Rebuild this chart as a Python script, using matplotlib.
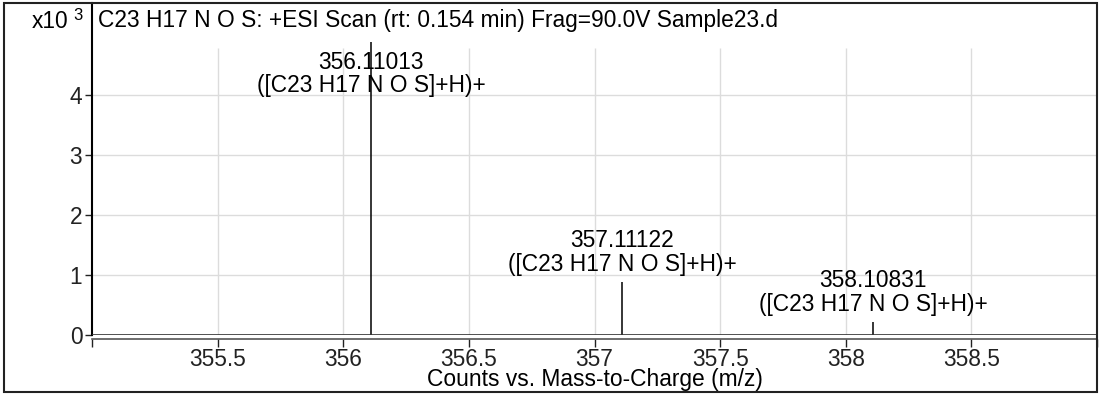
import matplotlib.pyplot as plt
import matplotlib.patches as patches

plt.rcParams['font.family'] = ['Liberation Sans', 'DejaVu Sans']

# --- datos del espectro (x10^3 cuentas) ---
mz = [356.11013, 357.11122, 358.10831]
intensidad = [4.88, 0.88, 0.22]
etiquetas = ["356.11013\n([C23 H17 N O S]+H)+",
             "357.11122\n([C23 H17 N O S]+H)+",
             "358.10831\n([C23 H17 N O S]+H)+"]

xticks = [355, 355.5, 356, 356.5, 357, 357.5, 358, 358.5, 359]
xticklabels = ["", "355.5", "356", "356.5", "357", "357.5", "358", "358.5", ""]
yticks = [0, 1, 2, 3, 4]

titulo = "C23 H17 N O S: +ESI Scan (rt: 0.154 min) Frag=90.0V Sample23.d"
labelx = "Counts vs. Mass-to-Charge (m/z)"

fs = 16.4
W, H = 1099, 394
fig = plt.figure(figsize=(W / 100, H / 100), dpi=100)
ax = fig.add_axes([92 / W, 59 / H, 1005 / W, 332 / H])

ymax = 5.533
grid_top = 4.78
ax.set_xlim(355, 359)
ax.set_ylim(0, ymax)

# rejilla
for y in yticks[1:]:
    ax.axhline(y, color='#dcdcdc', lw=1, zorder=0)
ax.vlines(xticks[1:-1], 0, grid_top, color='#dcdcdc', lw=1, zorder=0)

# picos
ax.vlines(mz, 0, intensidad, color='black', lw=1.1, zorder=3)
for x, h, txt in zip(mz, intensidad, etiquetas):
    ytxt = h + 0.1
    if ytxt + 0.75 > grid_top:
        ax.text(x, grid_top - 0.04, txt, ha='center', va='top', fontsize=fs,
                linespacing=1.05, zorder=2)
    else:
        ax.text(x, ytxt, txt, ha='center', va='bottom', fontsize=fs,
                linespacing=1.05, zorder=2)

ax.axhline(0, color='#333333', lw=1.2, zorder=4)

ax.set_xticks(xticks)
ax.set_xticklabels(xticklabels)
ax.set_yticks(yticks)
ax.tick_params(axis='both', labelsize=fs, width=1, colors='#222222')
ax.tick_params(axis='x', length=6, pad=0)
ax.tick_params(axis='y', length=5, pad=2)

ax.spines['top'].set_visible(False)
ax.spines['right'].set_visible(False)
ax.spines['bottom'].set_position(('outward', 3))
ax.spines['bottom'].set_color('#555555')
ax.spines['bottom'].set_linewidth(1.2)
ax.spines['left'].set_linewidth(1.5)
ax.spines['left'].set_bounds(0, ymax)

ax.set_xlabel(labelx, fontsize=fs, labelpad=-2)
ax.text(6 / 1005, 1 - 17 / 332, titulo, transform=ax.transAxes,
        ha='left', va='center', fontsize=fs)

fig.text(68 / W, 1 - 21 / H, "x10", ha='right', va='center', fontsize=fs)
fig.text(73 / W, 1 - 16 / H, "3", ha='left', va='center', fontsize=12)

# marco exterior
fig.patches.append(patches.Rectangle((4 / W, 2 / H), 1093 / W, 389 / H,
                                     transform=fig.transFigure, fill=False,
                                     edgecolor='#222222', lw=1.5))

plt.savefig("out.png", dpi=100)
